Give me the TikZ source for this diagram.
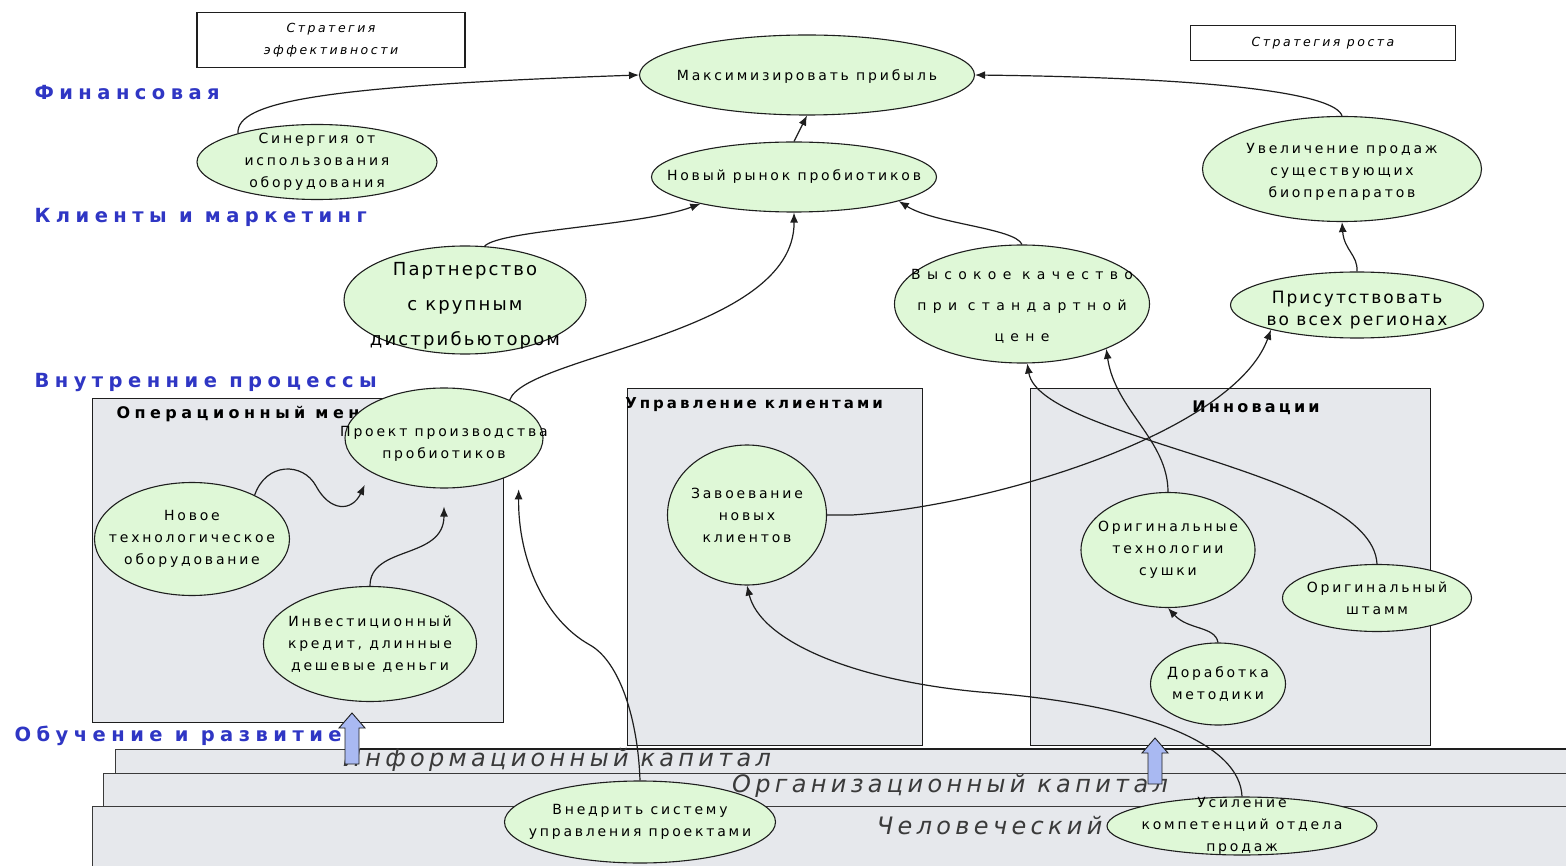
\documentclass[tikz,border=0pt]{standalone}
\usepackage{fontspec}
\setmainfont{DejaVu Sans}
\newfontfamily\goalfont{DejaVu Sans}[LetterSpace=20]
\newfontfamily\widefont{DejaVu Sans}[LetterSpace=45]
\newfontfamily\bigfont{DejaVu Sans}[LetterSpace=12]
\newfontfamily\viewfont{DejaVu Sans}[LetterSpace=28]
\newfontfamily\layerfont{DejaVu Sans}[LetterSpace=18]
\usetikzlibrary{arrows.meta,shapes.geometric}
\definecolor{MapLine}{HTML}{1E1E1E}
\definecolor{MapGoal}{HTML}{DFF8D7}
\definecolor{MapBack}{HTML}{E6E8EC}
\definecolor{MapView}{HTML}{2F36C4}
\definecolor{MapFlow}{HTML}{A9B9F2}
\definecolor{MapText}{HTML}{3A3A3A}
\tikzset{>={Latex[length=10pt,width=8pt]},goal/.style={ellipse,draw=MapLine,fill=MapGoal,
 line width=1.1pt,inner sep=0pt},view/.style={anchor=west,text=MapView,
 font=\viewfont\bfseries\fontsize{19.5}{20}\selectfont},grpbox/.style={draw=MapLine,fill=MapBack,
 line width=1.2pt,anchor=north west,inner sep=0pt},grptitle/.style={font=\goalfont\bfseries\fontsize{16}{18}\selectfont},
 stratbox/.style={draw=MapLine,line width=1.1pt,align=center,inner sep=0pt,
 font=\goalfont\itshape\fontsize{12.5}{22}\selectfont},layer/.style={draw=MapText,fill=MapBack,line width=.9pt},
 layertext/.style={text=MapText,font=\layerfont\itshape\fontsize{24}{26}\selectfont},
 flow/.style={draw=MapLine,fill=MapFlow,line width=.9pt},link/.style={draw=MapLine,line width=1.2pt,->}}
\begin{document}
\begin{tikzpicture}[x=1pt,y=-1pt,every node/.style={font=\goalfont\fontsize{14}{22}\selectfont},
 every label/.append style={align=center}]
\useasboundingbox[fill=white] (0,0) rectangle (1566,866);
% perspectives
\node[view] (vfin) at (31,93) {Финансовая};
\node[view] (vcli) at (31,217) {Клиенты и маркетинг};
\node[view] (vint) at (31,382) {Внутренние процессы};
\node[view] (vlrn) at (11,736) {Обучение и развитие};
% process groups
\node[grpbox,minimum width=411,minimum height=324] (opbox) at (92,398) {};
\node[grptitle,anchor=west,font=\viewfont\bfseries\fontsize{16}{18}\selectfont] (optitle) at (113,414) {Операционный менеджмент};
\node[grpbox,minimum width=295,minimum height=357] (cmbox) at (627,388) {};
\node[grptitle,font=\goalfont\bfseries\fontsize{15}{18}\selectfont] (cmtitle) at (754,405) {Управление клиентами};
\node[grpbox,minimum width=400,minimum height=357] (inbox) at (1030,388) {};
\node[grptitle] (intitle) at (1256,408) {Инновации};
% capital layers
\draw[layer] (92,806) rectangle (1572,872);
\draw[layer] (103,773) rectangle (1572,806);
\draw[layer] (115,749) rectangle (1572,773);
\draw[MapLine,line width=1.6pt] (360,749) -- (1572,749);
\node[layertext] (infocap) at (557,760) {Информационный капитал};
\node[layertext] (orgcap) at (950,786) {Организационный капитал};
\node[layertext,anchor=east] (humcap) at (1106,826) {Человеческий};
\foreach \x/\t/\b in {352/713/764,1155/738/784}
 \draw[flow] (\x-7,\b)--(\x-7,\t+15)--(\x-13,\t+15)--(\x,\t)--(\x+13,\t+15)--(\x+7,\t+15)--(\x+7,\b)--cycle;
% strategies
\node[stratbox,minimum width=268,minimum height=55] (seff) at (331,40) {Стратегия\\эффективности};
\node[stratbox,minimum width=265,minimum height=35] (sgrow) at (1323,43) {Стратегия роста};
% goals
\node[goal,minimum width=335,minimum height=80,label={[yshift=-2pt]center:{Максимизировать прибыль}}] (max) at (807,75) {};
\node[goal,minimum width=240,minimum height=75,label={center:{Синергия от\\использования\\оборудования}}] (syn) at (317,162) {};
\node[goal,minimum width=285,minimum height=70,label={center:{Новый рынок пробиотиков}}] (nm) at (794,177) {};
\node[goal,minimum width=279,minimum height=105,label={[yshift=-3pt]center:{Увеличение продаж\\существующих\\биопрепаратов}}] (sales) at (1342,169) {};
\node[goal,minimum width=242,minimum height=108,label={[yshift=-6pt,font=\bigfont\fontsize{18}{35}\selectfont]center:{Партнерство\\с крупным\\дистрибьютором}}] (part) at (465,300) {};
\node[goal,minimum width=255,minimum height=118,label={[yshift=-2pt,font=\widefont\fontsize{14}{31}\selectfont]center:{Высокое качество\\при стандартной\\цене}}] (qual) at (1022,304) {};
\node[goal,minimum width=253,minimum height=66,label={[yshift=-5pt,font=\bigfont\fontsize{17}{22}\selectfont]center:{Присутствовать\\во всех регионах}}] (pres) at (1357,305) {};
\node[goal,minimum width=198,minimum height=100,label={[yshift=-6pt]center:{Проект производства\\пробиотиков}}] (proj) at (444,438) {};
\node[goal,minimum width=195,minimum height=113,label={center:{Новое\\технологическое\\оборудование}}] (equip) at (192,539) {};
\node[goal,minimum width=213,minimum height=115,label={center:{Инвестиционный\\кредит, длинные\\дешевые деньги}}] (inv) at (370,644) {};
\node[goal,minimum width=159,minimum height=140,label={center:{Завоевание\\новых\\клиентов}}] (conq) at (747,515) {};
\node[goal,minimum width=174,minimum height=115,label={center:{Оригинальные\\технологии\\сушки}}] (otech) at (1168,550) {};
\node[goal,minimum width=189,minimum height=67,label={center:{Оригинальный\\штамм}}] (ostr) at (1377,598) {};
\node[goal,minimum width=135,minimum height=82,label={center:{Доработка\\методики}}] (dor) at (1218,684) {};
\node[goal,minimum width=271,minimum height=82,label={center:{Внедрить систему\\управления проектами}}] (vn) at (640,822) {};
\node[goal,minimum width=270,minimum height=58,label={center:{Усиление\\компетенций отдела\\продаж}}] (us) at (1242,826) {};
% links
\draw[link] (syn.160) .. controls (236,102) and (320,86) .. (max.west);
\draw[link] (sales.north) .. controls (1336,95) and (1230,78) .. (max.east);
\draw[link] (nm.north) -- (max.south);
\draw[link] (part.70) .. controls (500,230) and (640,226) .. (nm.196);
\draw[link] (qual.north) .. controls (1015,228) and (935,224) .. (nm.-13);
\draw[link] (proj.30) .. controls (525,355) and (795,335) .. (nm.south);
\draw[link] (pres.north) .. controls (1358,255) and (1344,250) .. (sales.south);
\draw[link] (conq.east) -- ++(25,0) .. controls (1000,505) and (1235,430) .. (pres.196);
\draw[link] (otech.north) .. controls (1168,440) and (1115,410) .. (qual.-28);
\draw[link] (ostr.north) .. controls (1372,470) and (1040,440) .. (qual.275);
\draw[link,shorten >=14pt] (equip.35) .. controls (266,462) and (303,462) .. (316,486) .. controls (330,512) and (352,512) .. (proj.205);
\draw[link,shorten >=18pt] (inv.north) .. controls (370,545) and (444,560) .. (proj.south);
\draw[link,shorten >=18pt] (vn.north) .. controls (638,720) and (620,662) .. (590,645) .. controls (545,620) and (518,560) .. (proj.-24);
\draw[link] (us.north) .. controls (1240,745) and (1150,705) .. (980,692) .. controls (850,680) and (760,640) .. (conq.south);
\draw[link] (dor.north) .. controls (1215,626) and (1188,630) .. (otech.south);
\end{tikzpicture}
\end{document}
